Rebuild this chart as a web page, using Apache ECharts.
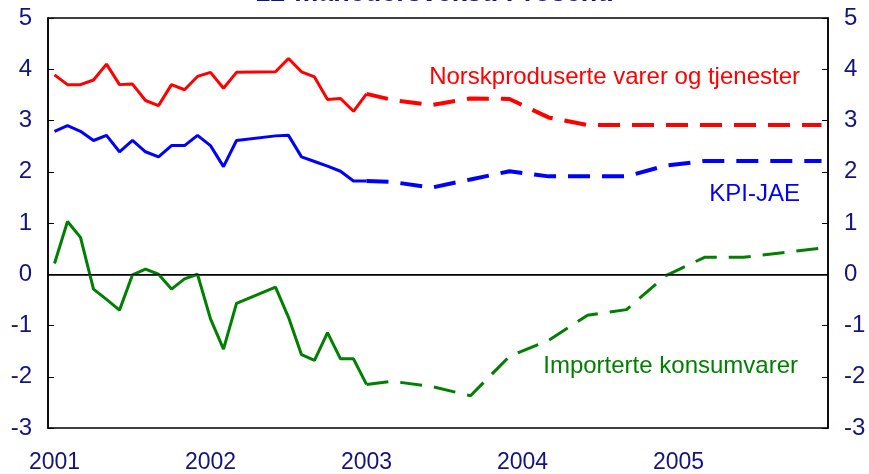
<!DOCTYPE html>
<html>
<head>
<meta charset="utf-8">
<script src="https://cdn.jsdelivr.net/npm/echarts@6/dist/echarts.min.js"></script>
<style>
  html, body { margin: 0; padding: 0; background: #fff; }
  #chart { width: 869px; height: 474px; }
</style>
</head>
<body>
<div id="chart"></div>
<script>
// måneder jan 2001 - des 2005
var months = [];
for (var y = 2001; y <= 2005; y++) {
  for (var m = 1; m <= 12; m++) months.push(y + '-' + (m < 10 ? '0' + m : m));
}

// faktiske tall, jan 2001 - jan 2003 (mar/apr 2002 mangler)
var norskFaktisk = [3.89, 3.70, 3.70, 3.79, 4.10, 3.70, 3.71, 3.39, 3.29, 3.70, 3.60, 3.86,
  3.94, 3.63, 3.94, null, null, 3.95, 4.21, 3.95, 3.85, 3.41, 3.43, 3.18,
  3.52];
var kpiFaktisk = [2.79, 2.90, 2.79, 2.61, 2.71, 2.39, 2.61, 2.39, 2.29, 2.51, 2.51, 2.71,
  2.51, 2.10, 2.61, null, null, 2.70, 2.71, 2.29, 2.20, 2.11, 2.01, 1.82,
  1.82];
var importFaktisk = [0.21, 1.03, 0.72, -0.29, -0.49, -0.70, -0.01, 0.10, 0.00, -0.29, -0.09, 0.00,
  -0.87, -1.46, -0.57, null, null, -0.25, -0.84, -1.57, -1.68, -1.14, -1.65, -1.65,
  -2.15];

// anslag, kvartalsvise punkter fra jan 2003
var anslagMnd = [24, 26, 29, 32, 35, 38, 41, 44, 47, 50, 53, 56, 59];
var norskAnslag = [3.52, 3.40, 3.30, 3.43, 3.42, 3.06, 2.91, 2.91, 2.91, 2.91, 2.91, 2.91, 2.91];
var kpiAnslag = [1.82, 1.80, 1.69, 1.85, 2.01, 1.91, 1.91, 1.91, 2.12, 2.21, 2.21, 2.21, 2.21];
var importAnslag = [-2.15, -2.09, -2.19, -2.37, -1.60, -1.29, -0.80, -0.69, -0.03, 0.33, 0.33, 0.42, 0.51];

var yTicks = [-3, 5];

function anslag(verdier) {
  var arr = months.map(function () { return null; });
  anslagMnd.forEach(function (mnd, i) { arr[mnd] = verdier[i]; });
  return arr;
}

var navy = '#14147f';
var font = 'Liberation Sans, Arial, sans-serif';

var myChart = echarts.init(document.getElementById('chart'));

function yAxis(pos) {
  return {
    type: 'value',
    position: pos,
    min: yTicks[0],
    max: yTicks[1],
    interval: 1,
    axisLine: { show: true, lineStyle: { color: '#000', width: 1.5 } },
    axisTick: { show: true, inside: true, length: 6, lineStyle: { color: '#000' } },
    splitLine: { show: false },
    axisLabel: { color: navy, fontSize: 24, fontFamily: font, margin: 16 }
  };
}

function linje(data, farge, stiplet, bredde) {
  return {
    type: 'line',
    data: data,
    symbol: 'none',
    connectNulls: true,
    lineStyle: {
      color: farge,
      width: bredde,
      type: stiplet ? [22, 12] : 'solid'
    },
    z: 3
  };
}

var option = {
  animation: false,
  backgroundColor: '#fff',
  grid: {
    left: 48, right: 41, top: 18, bottom: 46,
    show: true, borderColor: '#000', borderWidth: 1.5
  },
  xAxis: {
    type: 'category',
    data: months,
    boundaryGap: true,
    axisLine: { lineStyle: { color: '#000', width: 1.5 } },
    axisTick: { inside: true, length: 6, interval: 11, lineStyle: { color: '#000' } },
    axisLabel: {
      interval: 11,
      color: navy,
      fontSize: 23,
      fontFamily: font,
      margin: 23,
      formatter: function (v) { return v.slice(0, 4); }
    }
  },
  yAxis: [yAxis('left'), yAxis('right')],
  series: [
    Object.assign(linje(importFaktisk, '#008000', false, 3), {
      markLine: {
        silent: true,
        symbol: 'none',
        label: { show: false },
        lineStyle: { color: '#000', width: 1, type: 'solid' },
        data: [{ yAxis: 0 }]
      }
    }),
    linje(norskFaktisk, '#ff0000', false, 3),
    linje(kpiFaktisk, '#0000ff', false, 3),
    linje(anslag(norskAnslag), '#ff0000', true, 4),
    linje(anslag(kpiAnslag), '#0000ff', true, 4),
    linje(anslag(importAnslag), '#008000', true, 3)
  ],
  graphic: [
    {
      type: 'text', left: 'center', top: -20,
      style: { text: '12-månedersvekst. Prosent.', fill: navy, fontSize: 27, fontWeight: 'bold', fontFamily: font }
    },
    {
      type: 'text', right: 69, top: 65,
      style: { text: 'Norskproduserte varer og tjenester', fill: '#ff0000', fontSize: 24, fontFamily: font }
    },
    {
      type: 'text', right: 69, top: 182,
      style: { text: 'KPI-JAE', fill: '#0000ff', fontSize: 24, fontFamily: font }
    },
    {
      type: 'text', right: 71, top: 354,
      style: { text: 'Importerte konsumvarer', fill: '#008000', fontSize: 24, fontFamily: font }
    }
  ]
};

myChart.setOption(option);
</script>
</body>
</html>
